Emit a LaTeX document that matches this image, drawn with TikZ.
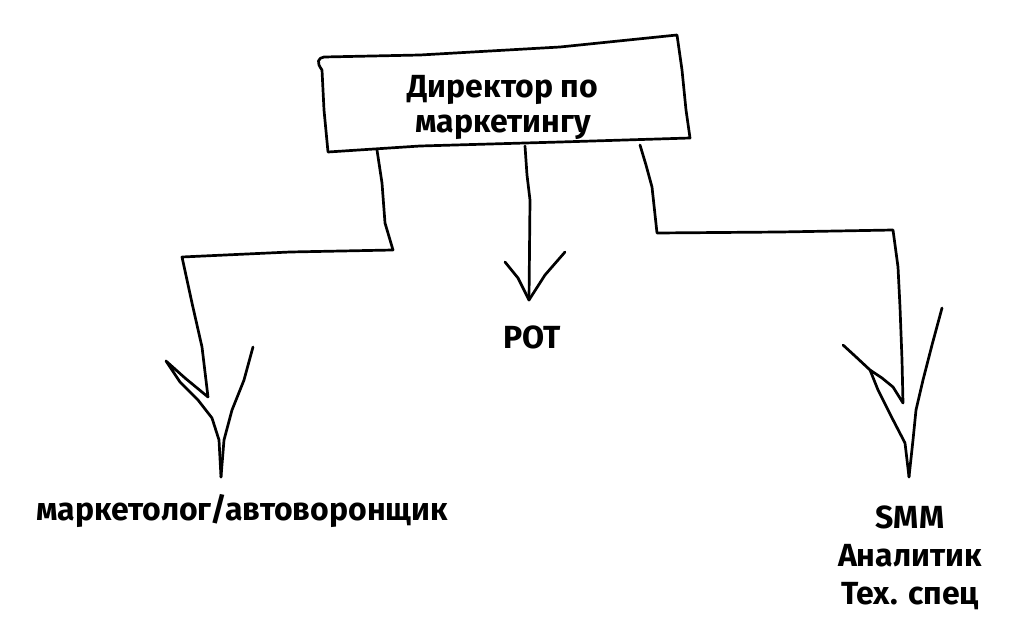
\documentclass[tikz,border=0pt]{standalone}
\usepackage{fontspec}
\setmainfont{Fira Sans}
\begin{document}
\begin{tikzpicture}[x=1pt,y=-1pt,
  ink/.style={line width=2.7pt,line cap=round,line join=round},
  lbl/.style={font=\bfseries\fontsize{32}{35}\selectfont,inner sep=0pt,align=center,anchor=base}]
\useasboundingbox[fill=white] (0,0) rectangle (1033,642);
% box
\draw[ink] (322,70) .. controls (316,62) and (318,58) .. (324,57) -- (420,55) -- (560,47) -- (677,35)
  -- (682,70) -- (686,110) -- (690,138) -- (560,142) -- (420,146) -- (328,152) -- (324,110) -- (322,70);
\node[lbl] (boss) at (503,132) {Директор по\\маркетингу};
\node[lbl] (pot) at (532,348) {POT};
\node[lbl] (mkt) at (242,520) {маркетолог/автоворонщик};
\node[lbl,font=\bfseries\fontsize{32}{38}\selectfont] (smm) at (910,604) {SMM\\Аналитик\\Тех. спец};
% connector start points on box
\coordinate (bl) at (377,150);
\coordinate (bm) at (525,146);
\coordinate (br) at (640,145);
% tips
\coordinate (tl) at (221,477);
\coordinate (tm) at (529,300);
\coordinate (tr) at (909,477);
% left
\draw[ink] (bl) -- (382,183) -- (385,223) -- (393,250) -- (290,252) -- (182,257) -- (192,303) -- (202,347) -- (208,397)
  -- (185,378) -- (166,361) -- (180,382) -- (198,400) -- (212,418) -- (219,440) -- (tl);
\draw[ink] (253,347) -- (244,380) -- (232,410) -- (224,440) -- (tl);
% middle
\draw[ink] (bm) -- (527,175) -- (530,200) -- (tm);
\draw[ink] (505,262) -- (518,278) -- (tm) -- (545,275) -- (565,252);
% right
\draw[ink] (br) -- (646,165) -- (652,187) -- (657,233) -- (780,232) -- (893,230) -- (898,267) -- (900,307) -- (902,360) -- (903,403)
  -- (893,387) -- (882,378) -- (870,370) -- (855,356) -- (843,345);
\draw[ink] (870,370) -- (878,390) -- (890,414) -- (905,443) -- (tr);
\draw[ink] (942,308) -- (932,345) -- (923,380) -- (916,410) -- (913,440) -- (tr);
\end{tikzpicture}
\end{document}
